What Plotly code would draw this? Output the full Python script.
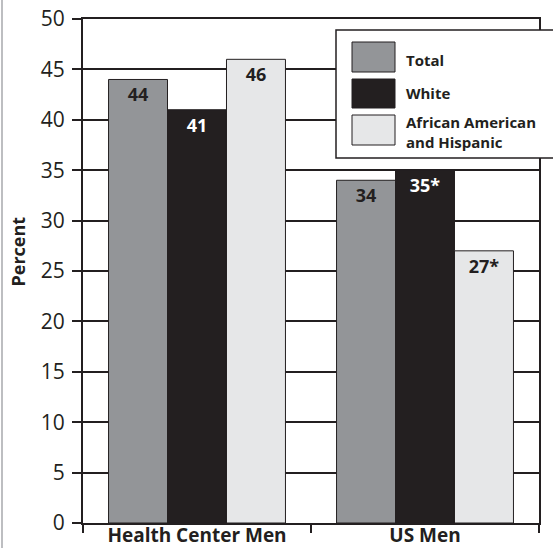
import plotly.graph_objects as go

# Categories, groups and values
categories = ["Health Center Men", "US Men"]
groups = ["Total", "White", "African American<br>and Hispanic"]
total_vals = [44, 34]
white_vals = [41, 35]
afhisp_vals = [46, 27]
# significance markers appended to the printed value
total_marks = ["", ""]
white_marks = ["", "*"]
afhisp_marks = ["", "*"]
y_ticks = [0, 5, 10, 15, 20, 25, 30, 35, 40, 45, 50]

INK = "#231f20"
GRAY = "#939598"
LIGHT = "#e6e7e8"
FONT = "Open Sans"

W, H = 553, 548
L, R, T, B = 83, 14, 19, 25
PW, PH = W - L - R, H - T - B


def px(x):
    return (x - L) / PW


def py(y):
    return (H - B - y) / PH


series = [
    (groups[0], total_vals, total_marks, GRAY, INK),
    (groups[1], white_vals, white_marks, INK, "white"),
    (groups[2], afhisp_vals, afhisp_marks, LIGHT, INK),
]

fig = go.Figure()
for name, vals, marks, fill, txt in series:
    fig.add_trace(go.Bar(
        name=name,
        x=categories,
        y=vals,
        text=[f"{v}{m}" for v, m in zip(vals, marks)],
        textposition="inside",
        insidetextanchor="end",
        constraintext="none",
        textangle=0,
        textfont=dict(family=FONT, size=18, color=txt, weight="bold"),
        marker=dict(color=fill, line=dict(color=INK, width=1)),
        showlegend=False,
        hoverinfo="skip",
    ))

shapes = []
annotations = []

# legend box drawn over the plot frame
shapes.append(dict(type="rect", xref="paper", yref="paper",
                   x0=px(336), x1=px(560), y0=py(158), y1=py(30),
                   fillcolor="white", line=dict(color=INK, width=1.5), layer="above"))
swatches = [(GRAY, 42, 72), (INK, 79, 108), (LIGHT, 115, 145)]
for (fill, y0, y1) in swatches:
    shapes.append(dict(type="rect", xref="paper", yref="paper",
                       x0=px(352), x1=px(395), y0=py(y1), y1=py(y0),
                       fillcolor=fill, line=dict(color=INK, width=1), layer="above"))
legend_text = [(groups[0], 60), (groups[1], 93), (groups[2], 131.5)]
for text, yc in legend_text:
    annotations.append(dict(xref="paper", yref="paper", x=px(404), y=py(yc),
                            text=f"<b>{text}</b>", showarrow=False,
                            xanchor="left", yanchor="middle", align="left",
                            font=dict(family=FONT, size=15, color=INK)))

# thin page rule at the far left
shapes.append(dict(type="line", xref="paper", yref="paper",
                   x0=px(2), x1=px(2), y0=py(548), y1=py(0),
                   line=dict(color="#a7a9ac", width=1.5)))

# y-axis title
annotations.append(dict(xref="paper", yref="paper", x=px(17.5), y=py(252),
                        text="<b>Percent</b>", textangle=-90, showarrow=False,
                        xanchor="center", yanchor="middle",
                        font=dict(family=FONT, size=18, color=INK)))

fig.update_layout(
    width=W, height=H,
    margin=dict(l=L, r=R, t=T, b=B, pad=0, autoexpand=False),
    paper_bgcolor="white", plot_bgcolor="white",
    barmode="group", bargap=0.224, bargroupgap=0,
    shapes=shapes, annotations=annotations,
    showlegend=False,
    font=dict(family=FONT, color=INK),
)
fig.update_xaxes(
    automargin=False,
    showline=True, linecolor=INK, linewidth=2, mirror=True,
    ticks="outside", tickson="boundaries", ticklen=8, tickwidth=1.5, tickcolor=INK,
    tickfont=dict(family=FONT, size=19, color=INK, weight="bold"),
    ticklabelstandoff=-6,
    showgrid=False,
)
fig.update_yaxes(
    automargin=False,
    range=[0, 50], tickvals=y_ticks,
    showline=True, linecolor=INK, linewidth=2, mirror=True,
    ticks="outside", ticklen=9, tickwidth=1.5, tickcolor=INK,
    tickfont=dict(family=FONT, size=21, color=INK),
    ticklabelstandoff=3,
    showgrid=True, gridcolor=INK, gridwidth=1.5,
    zeroline=False,
)

fig.write_html("out.html")
